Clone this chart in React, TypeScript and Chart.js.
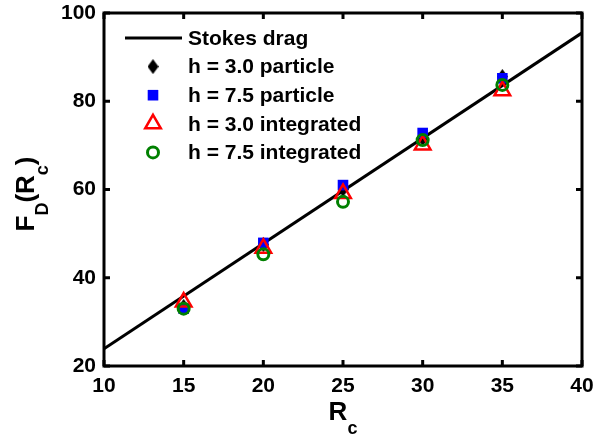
import React, { useEffect, useRef } from "react";
import { Chart, registerables } from "chart.js";
import { drawPoint } from "chart.js/helpers";

Chart.register(...registerables);

// Sphere radius and measured drag force
const radii = [15, 20, 25, 30, 35];
const stokesR = [10, 40];
const stokesF = [23.9, 95.5];
const h30Particle = [33.5, 47.5, 60.0, 71.5, 85.6];
const h75Particle = [33.0, 47.9, 61.0, 72.8, 85.2];
const h30Integrated = [34.5, 46.7, 59.1, 70.1, 82.4];
const h75Integrated = [33.0, 45.3, 57.2, 71.2, 83.7];

const seriesLabels = [
  "Stokes drag",
  "h = 3.0 particle",
  "h = 7.5 particle",
  "h = 3.0 integrated",
  "h = 7.5 integrated",
];

const xTicks = [10, 15, 20, 25, 30, 35, 40];
const yTicks = [20, 40, 60, 80, 100];
const xTitle = "R_c";
const yTitle = "F_D(R_c)";

const FONT = "'Liberation Sans', Arial, Helvetica, sans-serif";

// split "A_b" notation into normal / subscript runs
function parseRich(s: string) {
  const parts: { t: string; sub: boolean }[] = [];
  let buf = "";
  for (let i = 0; i < s.length; i++) {
    if (s[i] === "_" && i + 1 < s.length) {
      if (buf) parts.push({ t: buf, sub: false });
      buf = "";
      parts.push({ t: s[i + 1], sub: true });
      i++;
    } else buf += s[i];
  }
  if (buf) parts.push({ t: buf, sub: false });
  return parts;
}

function drawRich(ctx: CanvasRenderingContext2D, s: string, cx: number, baseY: number) {
  const parts = parseRich(s);
  const mainFont = `bold 26px ${FONT}`;
  const subFont = `bold 18px ${FONT}`;
  let total = 0;
  const widths = parts.map((p) => {
    ctx.font = p.sub ? subFont : mainFont;
    const w = ctx.measureText(p.t).width;
    total += w;
    return w;
  });
  let x = cx - total / 2;
  ctx.textAlign = "left";
  ctx.textBaseline = "alphabetic";
  ctx.fillStyle = "#000";
  parts.forEach((p, i) => {
    ctx.font = p.sub ? subFont : mainFont;
    ctx.fillText(p.t, x, p.sub ? baseY + 14 : baseY);
    x += widths[i];
  });
}

function makeDiamond() {
  const c = document.createElement("canvas");
  c.width = 11;
  c.height = 15;
  const g = c.getContext("2d")!;
  g.fillStyle = "#000";
  g.beginPath();
  g.moveTo(5.5, 0);
  g.lineTo(11, 7.5);
  g.lineTo(5.5, 15);
  g.lineTo(0, 7.5);
  g.closePath();
  g.fill();
  return c;
}

const framePlugin = {
  id: "frameAndTitles",
  afterDraw(chart: any) {
    const { ctx, chartArea: a, scales } = chart;
    ctx.save();
    ctx.strokeStyle = "#000";
    ctx.lineWidth = 3;
    ctx.lineCap = "butt";
    ctx.strokeRect(a.left, a.top, a.right - a.left, a.bottom - a.top);
    const tl = 6;
    ctx.beginPath();
    xTicks.forEach((v) => {
      const px = scales.x.getPixelForValue(v);
      ctx.moveTo(px, a.bottom);
      ctx.lineTo(px, a.bottom - tl);
      ctx.moveTo(px, a.top);
      ctx.lineTo(px, a.top + tl);
    });
    yTicks.forEach((v) => {
      const py = scales.y.getPixelForValue(v);
      ctx.moveTo(a.left, py);
      ctx.lineTo(a.left + tl, py);
      ctx.moveTo(a.right, py);
      ctx.lineTo(a.right - tl, py);
    });
    ctx.stroke();

    // axis titles
    drawRich(ctx, xTitle, (a.left + a.right) / 2, 420);
    ctx.save();
    ctx.translate(34, 194);
    ctx.rotate(-Math.PI / 2);
    drawRich(ctx, yTitle, 0, 0);
    ctx.restore();

    // legend
    const lx = a.left + 21;
    const ly = a.top + 25;
    const row = 28.6;
    const markX = lx + 28;
    const textX = lx + 63;
    ctx.textBaseline = "middle";
    ctx.textAlign = "left";
    chart.data.datasets.forEach((ds: any, i: number) => {
      const y = ly + i * row;
      if (i === 0) {
        ctx.strokeStyle = ds.borderColor;
        ctx.lineWidth = ds.borderWidth;
        ctx.beginPath();
        ctx.moveTo(lx, y);
        ctx.lineTo(lx + 57, y);
        ctx.stroke();
      } else {
        ctx.fillStyle = ds.backgroundColor;
        ctx.strokeStyle = ds.borderColor;
        ctx.lineWidth = ds.borderWidth;
        drawPoint(ctx, {
          pointStyle: ds.pointStyle,
          radius: ds.pointRadius,
          borderWidth: ds.borderWidth,
          rotation: 0,
        } as any, markX, y);
      }
      ctx.fillStyle = "#000";
      ctx.font = `bold 21px ${FONT}`;
      ctx.fillText(seriesLabels[i], textX, y + 1);
    });
    ctx.restore();
  },
};

export default function App() {
  const ref = useRef<HTMLCanvasElement>(null);

  useEffect(() => {
    if (!ref.current) return;
    const diamond = makeDiamond();
    const pts = (ys: number[]) => radii.map((x, i) => ({ x, y: ys[i] }));
    const chart = new Chart(ref.current, {
      type: "scatter",
      data: {
        datasets: [
          {
            label: seriesLabels[0],
            data: stokesR.map((x, i) => ({ x, y: stokesF[i] })),
            showLine: true,
            borderColor: "#000000",
            borderWidth: 3,
            pointRadius: 0,
            order: 5,
          },
          {
            label: seriesLabels[1],
            data: pts(h30Particle),
            pointStyle: diamond,
            pointRadius: 7,
            backgroundColor: "#000000",
            borderColor: "#000000",
            borderWidth: 0,
            order: 4,
          },
          {
            label: seriesLabels[2],
            data: pts(h75Particle),
            pointStyle: "rect",
            pointRadius: 7.5,
            backgroundColor: "#0000ff",
            borderColor: "#0000ff",
            borderWidth: 0,
            order: 3,
          },
          {
            label: seriesLabels[3],
            data: pts(h30Integrated),
            pointStyle: "triangle",
            pointRadius: 9,
            backgroundColor: "rgba(0,0,0,0)",
            borderColor: "#ff0000",
            borderWidth: 2.5,
            order: 2,
          },
          {
            label: seriesLabels[4],
            data: pts(h75Integrated),
            pointStyle: "circle",
            pointRadius: 5.5,
            backgroundColor: "rgba(0,0,0,0)",
            borderColor: "#008000",
            borderWidth: 3,
            order: 1,
          },
        ] as any,
      },
      options: {
        animation: false,
        responsive: false,
        events: [],
        layout: { padding: { top: 13, right: 12, left: 0, bottom: 0 } },
        plugins: {
          legend: { display: false },
          tooltip: { enabled: false },
        },
        scales: {
          x: {
            type: "linear",
            min: 10,
            max: 40,
            afterBuildTicks: (s: any) => {
              s.ticks = xTicks.map((v) => ({ value: v }));
            },
            afterFit: (s: any) => {
              s.height = 70;
              s.paddingLeft = 0;
              s.paddingRight = 0;
            },
            grid: { display: false },
            border: { display: false },
            ticks: {
              color: "#000",
              padding: 0,
              maxRotation: 0,
              autoSkip: false,
              font: { family: FONT, size: 21, weight: "bold" },
            },
          },
          y: {
            type: "linear",
            min: 20,
            max: 100,
            afterBuildTicks: (s: any) => {
              s.ticks = yTicks.map((v) => ({ value: v }));
            },
            afterFit: (s: any) => {
              s.width = 104;
              s.paddingTop = 0;
              s.paddingBottom = 0;
            },
            grid: { display: false },
            border: { display: false },
            ticks: {
              color: "#000",
              padding: 0,
              autoSkip: false,
              font: { family: FONT, size: 21, weight: "bold" },
            },
          },
        },
      },
      plugins: [framePlugin],
    });
    return () => chart.destroy();
  }, []);

  return (
    <div style={{ position: "fixed", left: 0, top: 0, width: 594, height: 436, background: "#fff" }}>
      <canvas ref={ref} width={594} height={436} style={{ display: "block" }} />
    </div>
  );
}
